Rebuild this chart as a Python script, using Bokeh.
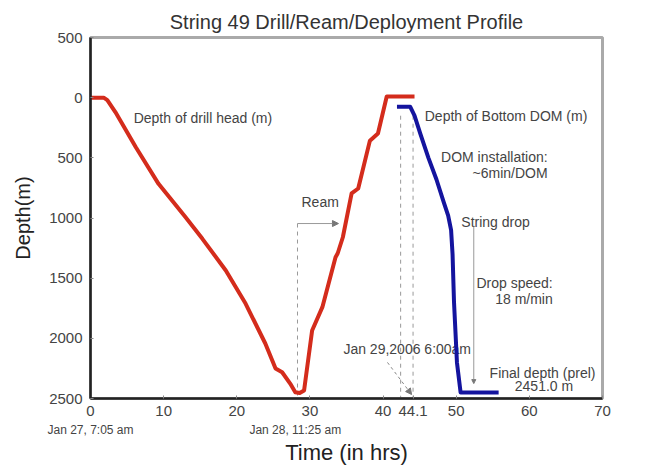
from bokeh.plotting import figure
from bokeh.models import Range1d, FixedTicker, Arrow, NormalHead, LinearAxis
from bokeh.core.properties import value
from bokeh.embed import file_html
from bokeh.resources import INLINE

# ---- data (hours since Jan 27 7:05 am, depth in m) ----
drill_hours = [0.0, 1.8, 2.3, 3.4, 6.2, 9.3, 13.0, 15.3, 18.5, 21.2, 23.9, 25.3, 26.2,
               27.3, 28.0, 28.6, 29.2, 30.3, 31.7, 33.5, 33.8, 34.5, 35.7, 36.6, 38.2,
               39.3, 40.5, 44.3]
drill_depth = [0, 0, 20, 120, 412, 716, 993, 1173, 1436, 1711, 2043, 2251, 2282,
               2376, 2448, 2455, 2434, 1935, 1741, 1326, 1293, 1160, 796, 755, 357,
               298, -10, -10]
dom_hours = [41.9, 43.7, 44.3, 45.1, 46.2, 47.3, 48.3, 48.9, 49.3, 49.5, 49.7, 50.1,
             50.6, 55.8]
dom_depth = [75, 75, 150, 300, 500, 680, 870, 980, 1100, 1300, 1700, 2200,
             2451, 2451]
x_ticks = [0, 10, 20, 30, 40, 44.1, 50, 60, 70]
y_ticks = [-500, 0, 500, 1000, 1500, 2000, 2500]
y_tick_labels = {-500: "500"}
date_ticks = [0, 28.0]
date_labels = {0: "Jan 27, 7:05 am", 28.0: "Jan 28, 11:25 am"}

FONT = "Liberation Sans"
TXT = "#444444"

p = figure(width=656, height=468, output_backend="svg", toolbar_location=None,
           x_range=Range1d(0, 70), y_range=Range1d(2500, -500),
           min_border_left=90, min_border_right=54, min_border_top=37,
           min_border_bottom=70, title="String 49 Drill/Ream/Deployment Profile")

p.title.align = "center"
p.title.text_font = FONT
p.title.text_font_size = "20px"
p.title.text_font_style = "normal"
p.title.text_color = "#333333"

p.xgrid.visible = False
p.ygrid.visible = False
p.outline_line_color = "#aaaaaa"
p.outline_line_width = 3
p.background_fill_color = "white"
p.border_fill_color = "white"

p.xaxis.ticker = FixedTicker(ticks=x_ticks)
p.yaxis.ticker = FixedTicker(ticks=y_ticks)
p.yaxis.major_label_overrides = y_tick_labels
for ax in (p.xaxis, p.yaxis):
    ax.axis_line_color = "#222222"
    ax.axis_line_width = 2.5
    ax.major_tick_in = 3
    ax.major_tick_out = 0
    ax.major_tick_line_color = "#888888"
    ax.minor_tick_line_color = None
    ax.major_label_text_font = FONT
    ax.major_label_text_font_size = "15px"
    ax.major_label_text_color = TXT
    ax.axis_label_text_font = FONT
    ax.axis_label_text_font_style = "normal"
    ax.axis_label_text_color = "#222222"
p.yaxis.axis_label = "Depth(m)"
p.yaxis.axis_label_text_font_size = "20px"
p.xaxis.major_label_standoff = 7
p.yaxis.major_label_standoff = 8
p.yaxis.axis_label_standoff = 12

# second axis below: dates + axis title
date_axis = LinearAxis(ticker=FixedTicker(ticks=date_ticks),
                       major_label_overrides=date_labels,
                       axis_label="Time (in hrs)")
date_axis.axis_line_color = None
date_axis.major_tick_line_color = None
date_axis.minor_tick_line_color = None
date_axis.major_tick_in = 0
date_axis.major_tick_out = 0
date_axis.major_label_standoff = 4
date_axis.major_label_text_font = FONT
date_axis.major_label_text_font_size = "12px"
date_axis.major_label_text_color = TXT
date_axis.axis_label_text_font = FONT
date_axis.axis_label_text_font_size = "22px"
date_axis.axis_label_text_font_style = "normal"
date_axis.axis_label_text_color = "#222222"
date_axis.axis_label_standoff = 0
p.add_layout(date_axis, "below")

# ---- guide lines ----
p.segment(x0=[28.3, 42.4, 44.1], y0=[1046, 150, 150], x1=[28.3, 42.4, 44.1],
          y1=[2500, 2500, 2500], line_color="#999999", line_width=1, line_dash="4 4")

p.add_layout(Arrow(end=NormalHead(size=6, fill_color="#777777", line_color="#777777"),
                   x_start=28.3, y_start=1046, x_end=33.9, y_end=1046,
                   line_color="#999999", line_width=1))
p.add_layout(Arrow(end=NormalHead(size=6, fill_color="#777777", line_color="#777777"),
                   x_start=40.6, y_start=2200, x_end=43.9, y_end=2467,
                   line_color="#888888", line_width=1, line_dash="3 3"))
p.add_layout(Arrow(end=NormalHead(size=4, fill_color="#777777", line_color="#777777"),
                   x_start=52.4, y_start=1071, x_end=52.4, y_end=2376,
                   line_color="#999999", line_width=1))

# ---- annotation texts (under the curves) ----
def txt(x, y, s, align, size="14px"):
    p.text(x=[x], y=[y], text=[s], text_font=value(FONT), text_font_size=size,
           text_color=TXT, text_align=align, text_baseline="middle")

txt(5.9, 165, "Depth of drill head (m)", "left")
txt(45.7, 150, "Depth of Bottom DOM (m)", "left")
txt(62.5, 497, "DOM installation:", "right")
txt(62.5, 622, "~6min/DOM", "right")
txt(31.4, 863, "Ream", "center")
txt(50.7, 1037, "String drop", "left")
txt(63.2, 1544, "Drop speed:", "right")
txt(63.2, 1669, "18 m/min", "right")
txt(43.3, 2085, "Jan 29,2006 6:00am", "center")
txt(61.8, 2292, "Final depth (prel)", "center")
txt(62.0, 2392, "2451.0 m", "center")

# ---- curves ----
p.line(drill_hours, drill_depth, line_color="#d42c1c", line_width=4, line_join="round")
p.line(dom_hours, dom_depth, line_color="#14149e", line_width=4, line_join="round")

open("out.html", "w").write(file_html(p, INLINE))
